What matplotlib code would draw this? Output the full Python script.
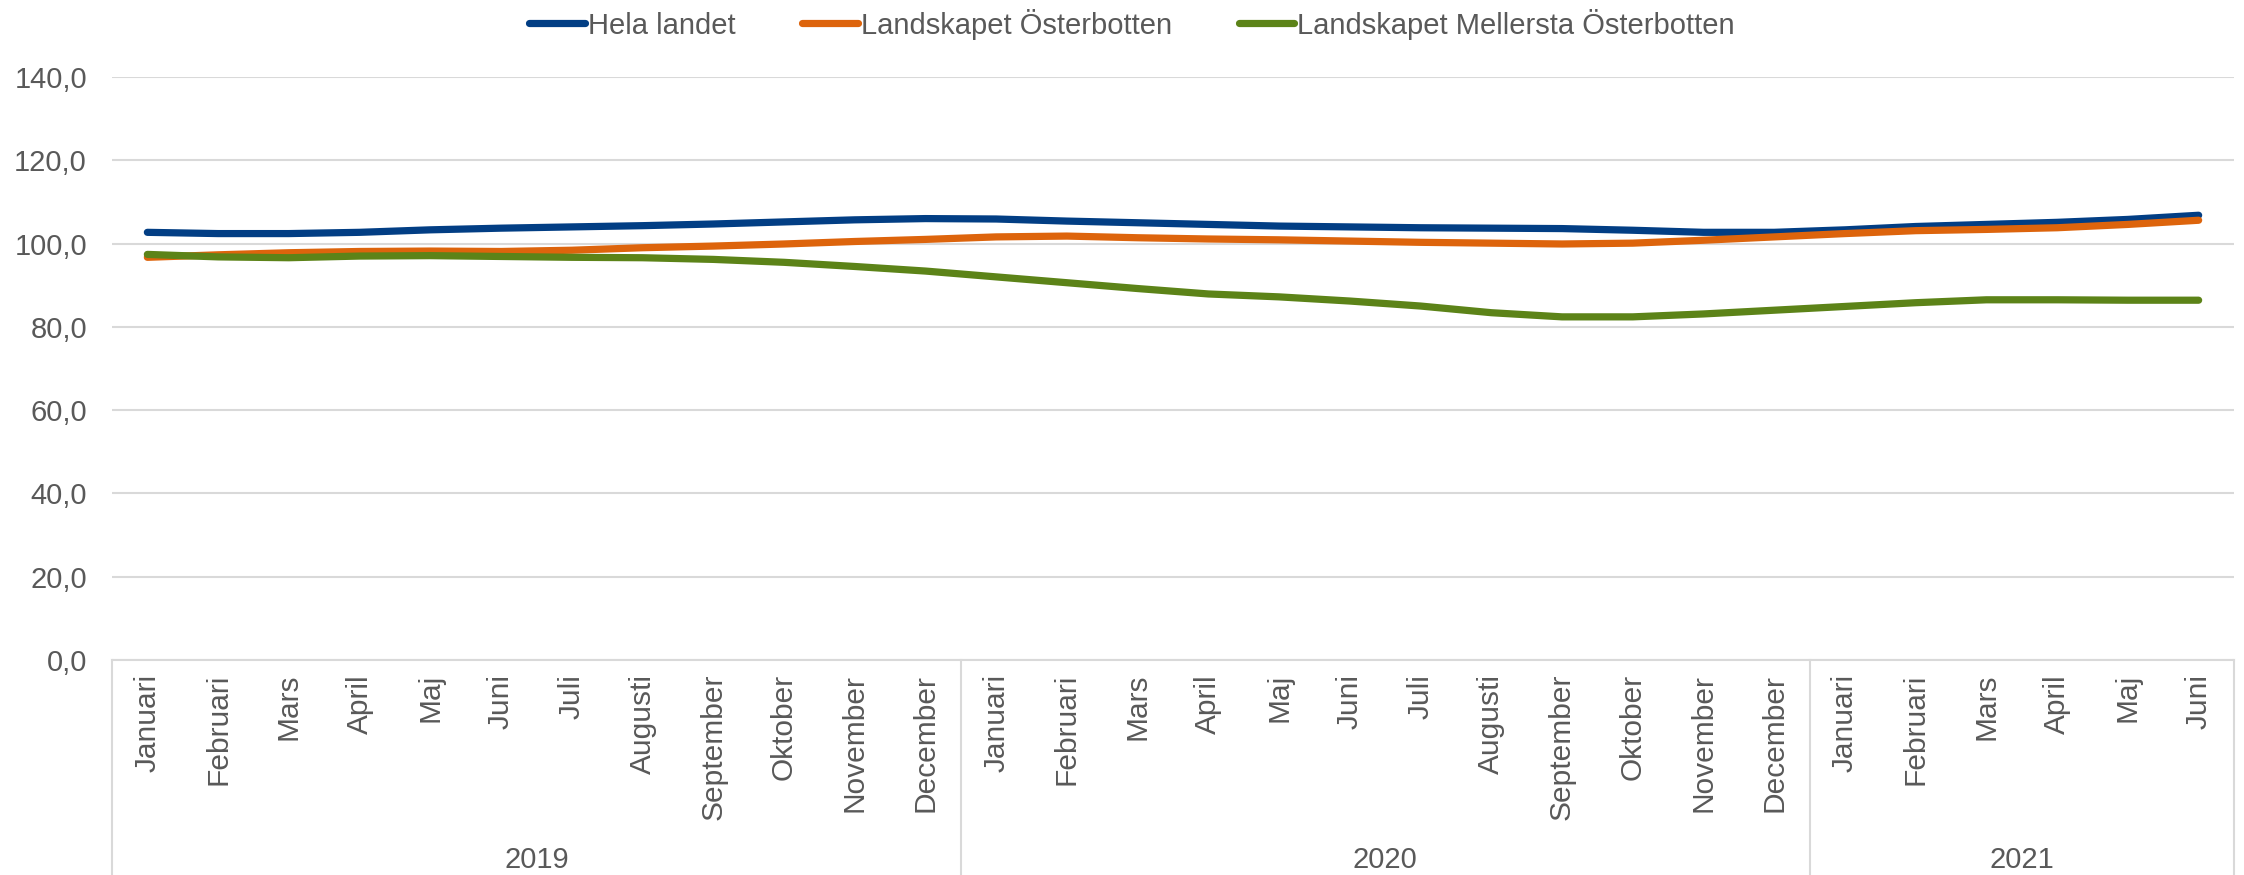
import numpy as np
from matplotlib import pyplot as plt
from matplotlib import transforms

# Month labels (Swedish) and year groups
months_2019 = ["Januari", "Februari", "Mars", "April", "Maj", "Juni", "Juli",
               "Augusti", "September", "Oktober", "November", "December"]
months_2020 = list(months_2019)
months_2021 = ["Januari", "Februari", "Mars", "April", "Maj", "Juni"]
month_labels = months_2019 + months_2020 + months_2021
years = ["2019", "2020", "2021"]
year_sizes = [len(months_2019), len(months_2020), len(months_2021)]

# Series values
hela_landet = [102.7, 102.4, 102.4, 102.7, 103.3, 103.7, 104.0, 104.3, 104.7, 105.2,
               105.7, 106.0, 105.9, 105.4, 105.0, 104.6, 104.2, 104.0, 103.8, 103.7,
               103.6, 103.2, 102.7, 102.7, 103.3, 104.1, 104.6, 105.1, 105.8, 106.8]
osterbotten = [96.7, 97.3, 97.8, 98.1, 98.2, 98.1, 98.4, 99.0, 99.4, 99.9,
               100.5, 101.0, 101.6, 101.8, 101.4, 101.1, 100.9, 100.6, 100.3, 100.1,
               99.9, 100.1, 100.8, 101.6, 102.4, 103.1, 103.4, 103.8, 104.6, 105.6]
mellersta = [97.4, 96.8, 96.6, 97.0, 97.1, 96.9, 96.7, 96.6, 96.2, 95.5,
             94.5, 93.4, 92.0, 90.6, 89.2, 87.9, 87.2, 86.2, 85.0, 83.4,
             82.4, 82.4, 83.1, 84.0, 84.9, 85.8, 86.5, 86.5, 86.4, 86.4]

series_names = ["Hela landet", "Landskapet Österbotten", "Landskapet Mellersta Österbotten"]
colors = ["#023E84", "#DD640C", "#5C8318"]
y_ticks = [0, 20, 40, 60, 80, 100, 120, 140]

text_color = "#595959"
grid_color = "#D9D9D9"
plt.rcParams['font.family'] = ['Liberation Sans', 'DejaVu Sans']

fig = plt.figure(figsize=(22.44, 8.75), dpi=100)
ax = fig.add_axes([112 / 2244, 1 - 660 / 875, (2234 - 112) / 2244, (660 - 77) / 875])

x = np.arange(len(month_labels))
for values, name, color in zip([hela_landet, osterbotten, mellersta], series_names, colors):
    ax.plot(x, values, color=color, lw=5.2, label=name,
            solid_joinstyle="round", solid_capstyle="round", zorder=3)

ax.set_xlim(-0.5, len(month_labels) - 0.5)
ax.set_ylim(0, 140)

# Y axis
ax.set_yticks(y_ticks)
ax.set_yticklabels([f"{v:.1f}".replace(".", ",") for v in y_ticks],
                   fontsize=21, color=text_color)
ax.tick_params(axis="y", length=0, pad=18)
ax.grid(axis="y", color=grid_color, lw=1.5, zorder=0)

# X axis: month labels
ax.set_xticks(x)
ax.set_xticklabels(month_labels, rotation=90, fontsize=21.5, color=text_color,
                   va="top", ha="center")
ax.tick_params(axis="x", length=0, pad=10)

for side in ["top", "right", "left"]:
    ax.spines[side].set_visible(False)
ax.spines["bottom"].set_color(grid_color)
ax.spines["bottom"].set_linewidth(1.5)

# Year grouping: separators and labels
trans = transforms.blended_transform_factory(ax.transData, ax.transAxes)
bottom_y = -(875 - 660) / (660 - 77)
edges = np.concatenate([[0], np.cumsum(year_sizes)]) - 0.5
for e in edges:
    ax.plot([e, e], [0, bottom_y], transform=trans, color=grid_color,
            lw=1.5, clip_on=False)
for i, year in enumerate(years):
    mid = (edges[i] + edges[i + 1]) / 2
    ax.text(mid, -(860 - 660) / (660 - 77), year, transform=trans,
            ha="center", va="center", fontsize=21, color=text_color)

# Legend
leg = fig.legend(loc="center", bbox_to_anchor=(0.5045, 1 - 24 / 875), ncol=3,
                 frameon=False, fontsize=21, handlelength=1.9, handletextpad=0.1,
                 columnspacing=2.3)
for t in leg.get_texts():
    t.set_color(text_color)

fig.savefig("out.png", dpi=100)
